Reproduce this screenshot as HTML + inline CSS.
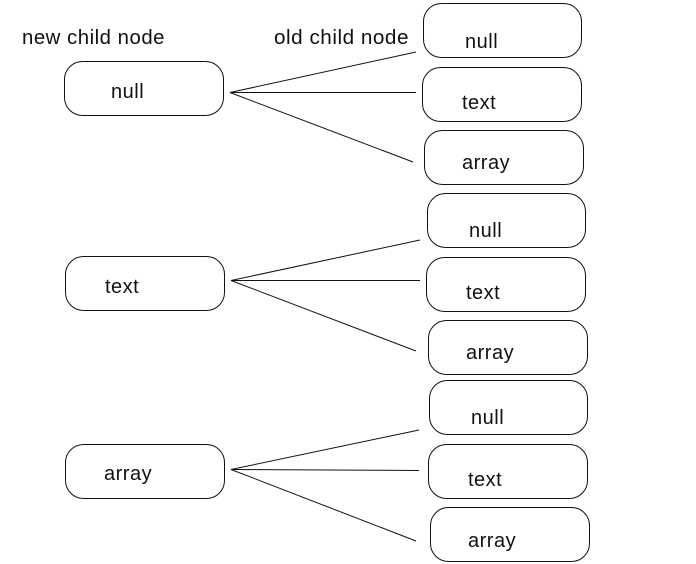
<!DOCTYPE html>
<html><head><style>
html,body{margin:0;padding:0;background:#fff;}
svg{display:block;}
text{font-family:"Liberation Sans","DejaVu Sans",sans-serif;font-size:20px;fill:#111;letter-spacing:0.5px;}
rect{fill:#fff;stroke:#111;stroke-width:1;}
line{stroke:#111;stroke-width:1;}
</style></head><body>
<svg width="696" height="564" viewBox="0 0 696 564" xmlns="http://www.w3.org/2000/svg">
<text x="22" y="44" textLength="143" lengthAdjust="spacingAndGlyphs">new child node</text>
<text x="274" y="44" textLength="135" lengthAdjust="spacingAndGlyphs">old child node</text>

<rect x="64.5" y="61.5" width="159" height="54" rx="18"/>
<text x="111" y="98">null</text>
<rect x="65.5" y="256.5" width="159" height="54" rx="18"/>
<text x="105" y="293">text</text>
<rect x="65.5" y="444.5" width="159" height="54" rx="18"/>
<text x="104" y="480">array</text>

<rect x="423.5" y="3.5" width="158" height="54" rx="18"/>
<text x="465" y="48">null</text>
<rect x="422.5" y="67.5" width="159" height="54" rx="18"/>
<text x="462" y="109">text</text>
<rect x="424.5" y="130.5" width="159" height="54" rx="18"/>
<text x="462" y="169">array</text>

<rect x="427.5" y="193.5" width="158" height="54" rx="18"/>
<text x="469" y="237">null</text>
<rect x="426.5" y="257.5" width="159" height="54" rx="18"/>
<text x="466" y="299">text</text>
<rect x="428.5" y="320.5" width="159" height="54" rx="18"/>
<text x="466" y="359">array</text>

<rect x="429.5" y="380.5" width="158" height="54" rx="18"/>
<text x="471" y="424">null</text>
<rect x="428.5" y="444.5" width="159" height="54" rx="18"/>
<text x="468" y="486">text</text>
<rect x="430.5" y="507.5" width="159" height="54" rx="18"/>
<text x="468" y="547">array</text>

<line x1="230" y1="92.5" x2="416" y2="52"/>
<line x1="230" y1="92.5" x2="416" y2="92.5"/>
<line x1="230" y1="92.5" x2="413" y2="162"/>

<line x1="231" y1="280.5" x2="420" y2="240"/>
<line x1="231" y1="280.5" x2="420" y2="280.5"/>
<line x1="231" y1="280.5" x2="416" y2="351"/>

<line x1="231" y1="469.5" x2="419" y2="430"/>
<line x1="231" y1="469.5" x2="419" y2="470.5"/>
<line x1="231" y1="469.5" x2="416" y2="541"/>
</svg>
</body></html>
